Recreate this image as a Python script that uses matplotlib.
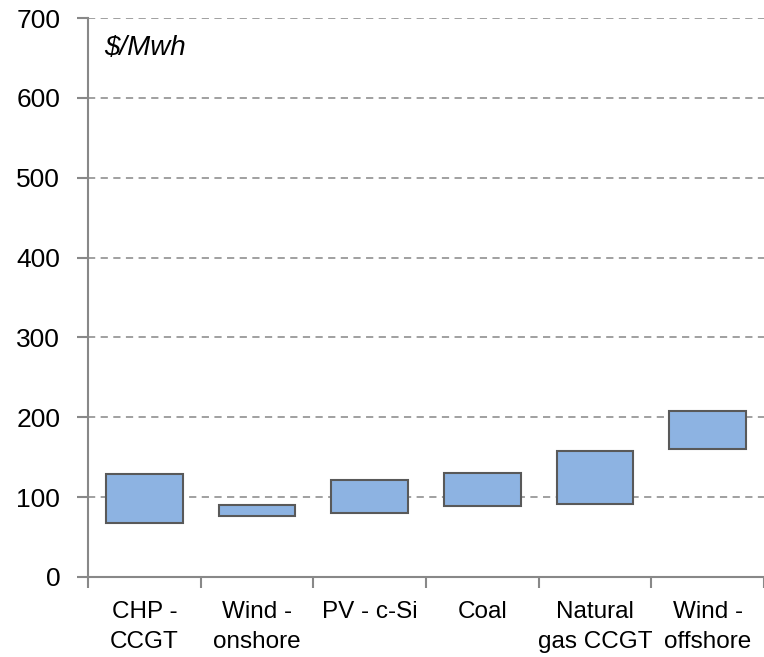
import matplotlib.pyplot as plt

categories = ["CHP -\nCCGT", "Wind -\nonshore", "PV - c-Si", "Coal",
              "Natural\ngas CCGT", "Wind -\noffshore"]
low = [68, 77, 80, 89, 92, 160]
high = [129, 90, 122, 130, 158, 208]
y_ticks = [0, 100, 200, 300, 400, 500, 600, 700]

plt.rcParams['font.family'] = ['Liberation Sans', 'DejaVu Sans']

fig = plt.figure(figsize=(7.64, 6.57), dpi=100)
ax = fig.add_axes([88 / 764, 80 / 657, 676 / 764, 559 / 657])

x = list(range(len(categories)))
heights = [h - l for h, l in zip(high, low)]
ax.bar(x, heights, bottom=low, width=0.68, color='#8DB3E2',
       edgecolor='#595959', linewidth=1.5, zorder=3)

ax.set_xlim(-0.5, len(categories) - 0.5)
ax.set_ylim(0, 700)
ax.set_yticks(y_ticks)
ax.set_yticklabels([str(v) for v in y_ticks], fontsize=19)

# boundary ticks on the major locator, labels on the minor one
ax.set_xticks([i - 0.5 for i in range(len(categories) + 1)])
ax.set_xticklabels([])
ax.set_xticks(x, minor=True)
ax.set_xticklabels(categories, minor=True, fontsize=17.5, linespacing=1.5)
ax.tick_params(axis='x', which='minor', length=0, pad=17)
ax.tick_params(axis='x', which='major', length=8, width=1.5, color='#888888')
ax.tick_params(axis='y', length=8, width=1.5, color='#888888', pad=12)

for v in y_ticks[1:]:
    ax.axhline(v, color='#999999', linestyle=(0, (4, 3)), linewidth=1.3,
               zorder=1)

for side in ['top', 'right']:
    ax.spines[side].set_visible(False)
for side in ['left', 'bottom']:
    ax.spines[side].set_color('#888888')
    ax.spines[side].set_linewidth(1.5)

ax.text(16 / 676, 1 - 30 / 559, "$/Mwh", transform=ax.transAxes,
        fontsize=20, style='italic', va='center', ha='left')

fig.savefig("out.png", dpi=100)
